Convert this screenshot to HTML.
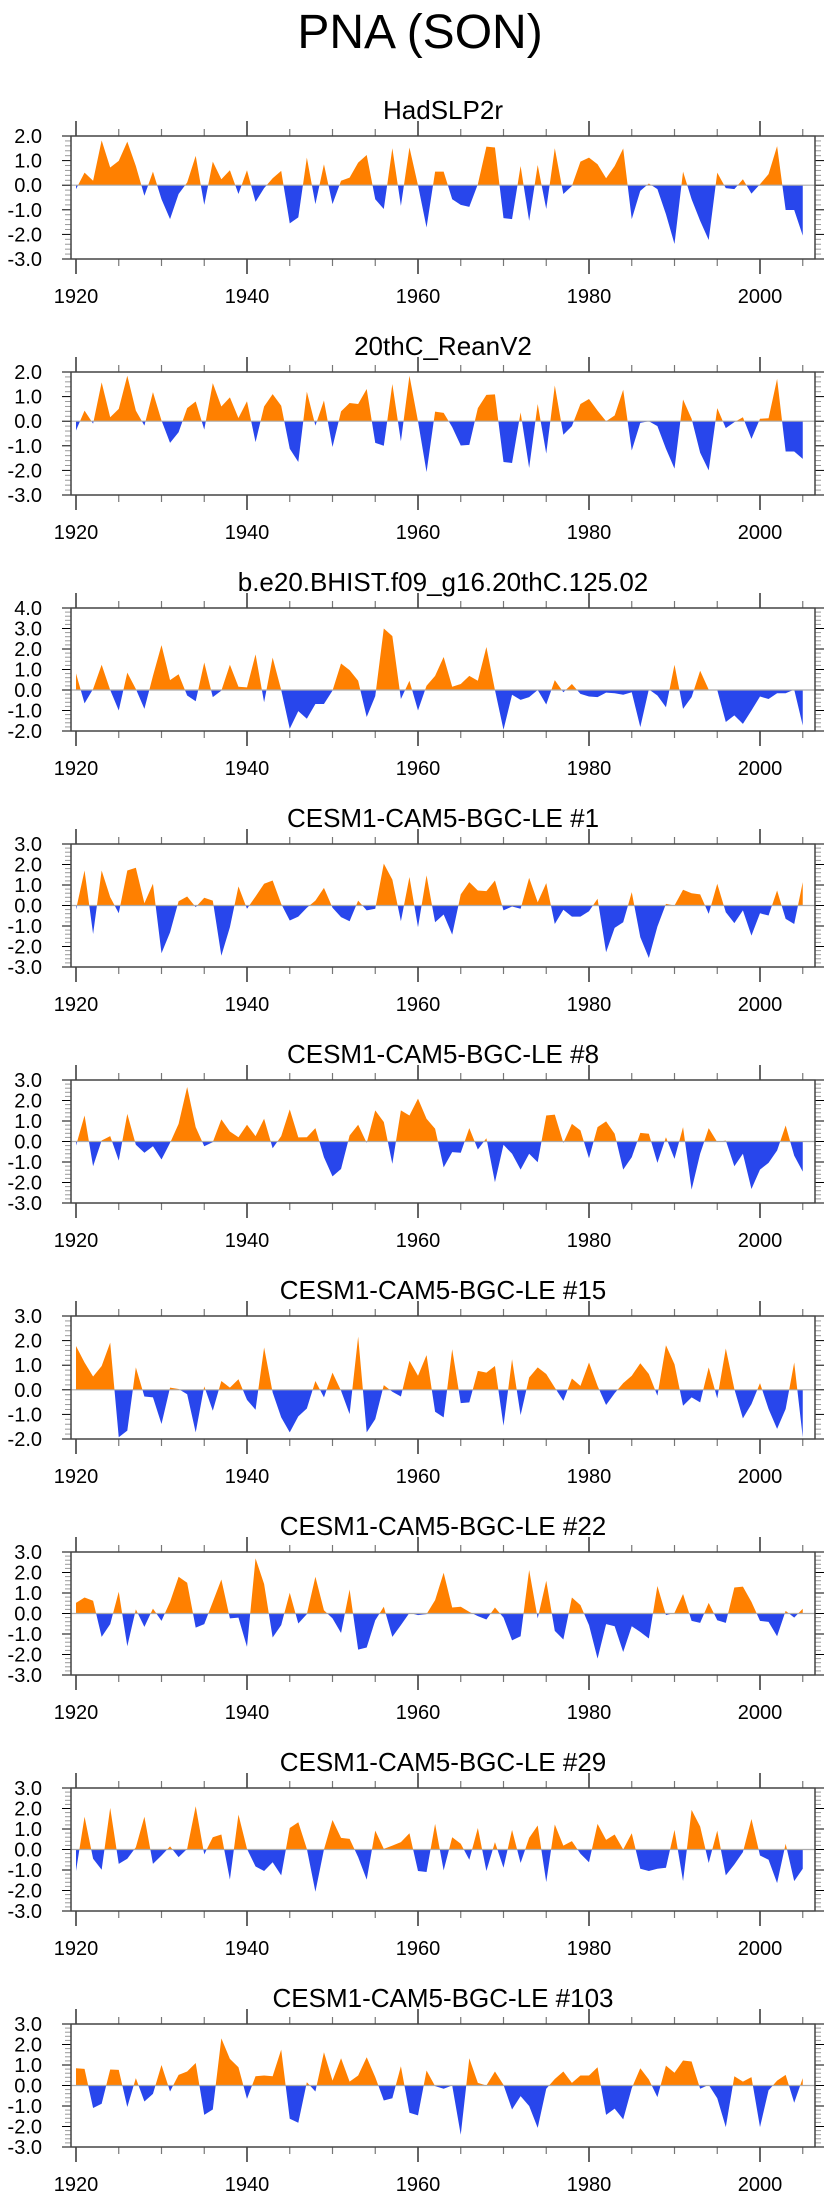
<!DOCTYPE html>
<html><head><meta charset="utf-8"><title>PNA (SON)</title>
<style>
html,body{margin:0;padding:0;background:#fff;}
svg{display:block;font-family:"Liberation Sans",Arial,sans-serif;}
</style></head>
<body>
<svg id="chart" width="840" height="2200" viewBox="0 0 840 2200" xmlns="http://www.w3.org/2000/svg">
<text x="420" y="48" text-anchor="middle" font-size="48">PNA (SON)</text>
</svg>
<script>
const startYear = 1920;
const panelTitles = ["HadSLP2r","20thC_ReanV2","b.e20.BHIST.f09_g16.20thC.125.02","CESM1-CAM5-BGC-LE #1","CESM1-CAM5-BGC-LE #8","CESM1-CAM5-BGC-LE #15","CESM1-CAM5-BGC-LE #22","CESM1-CAM5-BGC-LE #29","CESM1-CAM5-BGC-LE #103"];
const yMaxes = [2,2,4,3,3,3,3,3,3];
const yMins = [-3,-3,-2,-3,-3,-2,-3,-3,-3];
const xTickLabels = [1920,1940,1960,1980,2000];

const hadslp2r = [-0.16,0.51,0.18,1.82,0.72,0.99,1.77,0.78,-0.43,0.55,-0.57,-1.38,-0.36,0.11,1.19,-0.8,0.96,0.24,0.61,-0.36,0.61,-0.68,-0.12,0.28,0.58,-1.55,-1.31,1.12,-0.77,0.85,-0.77,0.18,0.31,0.92,1.23,-0.57,-0.97,1.5,-0.84,1.53,0,-1.72,0.55,0.55,-0.57,-0.8,-0.88,0.04,1.57,1.53,-1.34,-1.38,0.78,-1.45,0.82,-0.97,1.5,-0.36,-0.03,0.96,1.12,0.85,0.28,0.78,1.49,-1.38,-0.23,0.07,-0.16,-1.18,-2.39,0.55,-0.57,-1.45,-2.23,0.51,-0.12,-0.16,0.24,-0.34,0.04,0.45,1.59,-1.01,-1.01,-2.05];
const reanV2 = [-0.38,0.43,-0.1,1.58,0.16,0.5,1.85,0.43,-0.18,1.18,0.03,-0.88,-0.45,0.53,0.8,-0.34,1.55,0.6,0.97,0.13,0.81,-0.85,0.6,1.1,0.63,-1.12,-1.66,1.2,-0.18,0.84,-1.05,0.4,0.74,0.7,1.31,-0.88,-1.0,1.51,-0.82,1.85,0,-2.07,0.39,0.34,-0.24,-0.99,-0.96,0.53,1.07,1.09,-1.66,-1.7,0.36,-1.9,0.7,-1.32,1.45,-0.55,-0.2,0.7,0.9,0.43,0,0.23,1.28,-1.19,-0.07,0,-0.2,-1.12,-1.93,0.88,0.1,-1.28,-2.0,0.53,-0.28,-0.04,0.16,-0.72,0.1,0.12,1.72,-1.23,-1.23,-1.53];
const bhist = [0.81,-0.65,0.05,1.23,0,-1.0,0.85,0.05,-0.92,0.69,2.19,0.48,0.77,-0.27,-0.55,1.34,-0.35,-0.03,1.23,0.16,0.13,1.74,-0.6,1.58,0,-1.89,-1.03,-1.4,-0.68,-0.68,-0.03,1.29,0.97,0.45,-1.32,-0.3,3.0,2.63,-0.44,0.45,-1.0,0.21,0.69,1.61,0.16,0.29,0.69,0.45,2.1,0,-1.94,-0.23,-0.48,-0.35,0,-0.71,0.48,-0.11,0.29,-0.19,-0.32,-0.35,-0.13,-0.16,-0.23,-0.11,-1.81,0.03,-0.27,-0.84,1.23,-0.92,-0.35,0.94,0.02,0,-1.56,-1.24,-1.65,-1.0,-0.32,-0.44,-0.16,-0.16,0.02,-1.73];
const le1 = [-0.2,1.71,-1.39,1.71,0.41,-0.38,1.71,1.84,0.11,1.06,-2.33,-1.31,0.21,0.44,-0.08,0.38,0.24,-2.45,-1.06,0.93,-0.16,0.44,1.06,1.22,0.08,-0.73,-0.54,-0.11,0.24,0.86,-0.11,-0.57,-0.77,0.24,-0.24,-0.16,2.04,1.26,-0.77,1.39,-1.06,1.47,-0.82,-0.44,-1.42,0.54,1.14,0.73,0.7,1.22,-0.24,-0.05,-0.16,1.35,0.16,1.09,-0.9,-0.21,-0.54,-0.54,-0.28,0.33,-2.28,-1.09,-0.82,0.65,-1.55,-2.56,-1.03,0.08,0,0.77,0.6,0.54,-0.41,1.06,-0.33,-0.86,-0.24,-1.47,-0.38,-0.49,0.73,-0.65,-0.9,1.14];
const le8 = [-0.2,1.27,-1.21,0.05,0.26,-0.93,1.35,-0.16,-0.55,-0.23,-0.88,-0.07,0.86,2.66,0.7,-0.23,-0.03,1.08,0.49,0.21,0.82,0.26,1.11,-0.33,0.26,1.57,0.2,0.21,0.65,-0.77,-1.7,-1.34,0.29,0.82,-0.07,1.52,0.95,-1.09,1.52,1.27,2.09,1.11,0.62,-1.26,-0.52,-0.55,0.65,-0.39,0.16,-1.99,-0.16,-0.6,-1.37,-0.6,-1.01,1.27,1.31,-0.07,0.86,0.54,-0.82,0.7,0.98,0.38,-1.37,-0.77,0.42,0.38,-1.04,0.21,-0.85,0.7,-2.35,-0.6,0.65,-0.03,0.05,-1.21,-0.6,-2.32,-1.37,-1.04,-0.44,0.78,-0.69,-1.47];
const le15 = [1.78,1.11,0.54,0.97,1.92,-1.93,-1.66,0.91,-0.27,-0.31,-1.39,0.09,0.03,-0.18,-1.73,0.14,-0.85,0.36,0.09,0.43,-0.41,-0.81,1.72,-0.11,-1.12,-1.73,-1.08,-0.76,0.36,-0.31,0.7,-0.04,-0.99,2.16,-1.73,-1.19,0.19,-0.08,-0.27,1.18,0.57,1.41,-0.89,-1.12,1.65,-0.54,-0.51,0.77,0.7,0.97,-1.46,1.24,-1.03,0.5,0.91,0.64,0.09,-0.45,0.46,0.16,1.11,0.16,-0.62,-0.14,0.27,0.57,1.08,0.64,-0.24,1.81,1.04,-0.65,-0.31,-0.51,0.91,-0.35,1.68,0.03,-1.16,-0.58,0.27,-0.78,-1.59,-0.78,1.11,-1.93];
const le22 = [0.52,0.78,0.62,-1.14,-0.52,1.06,-1.6,0.2,-0.65,0.24,-0.36,0.57,1.79,1.5,-0.69,-0.52,0.57,1.66,-0.24,-0.2,-1.63,2.69,1.44,-1.17,-0.57,1.01,-0.49,-0.03,1.79,0.16,-0.24,-0.95,1.17,-1.76,-1.66,-0.33,0.33,-1.14,-0.57,0.03,-0.08,-0.03,0.65,1.99,0.29,0.33,0.08,-0.13,-0.29,0.29,-0.2,-1.31,-1.11,2.12,-0.24,1.6,-0.85,-1.27,0.78,0.41,-0.57,-2.2,-0.52,-0.62,-1.88,-0.62,-0.9,-1.22,1.34,-0.08,0.03,0.95,-0.36,-0.46,0.52,-0.33,-0.46,1.27,1.31,0.57,-0.36,-0.41,-1.11,0.13,-0.2,0.23];
const le29 = [-1.05,1.6,-0.45,-0.99,2.03,-0.7,-0.45,0.11,1.6,-0.7,-0.29,0.15,-0.37,0.03,2.11,-0.24,0.6,0.73,-1.47,1.7,0.03,-0.83,-1.05,-0.62,-1.26,1.05,1.33,0.03,-2.06,0,1.44,0.57,0.52,-0.37,-1.47,0.92,0.03,0.19,0.36,0.79,-1.05,-1.1,1.25,-1.02,0.6,0.28,-0.5,1.05,-1.05,0.36,-0.89,0.96,-0.66,0.57,1.17,-1.59,1.22,0.19,0.41,-0.21,-0.62,1.25,0.47,0.73,0,0.79,-0.94,-1.05,-0.94,-0.89,0.96,-1.54,1.93,1.12,-0.66,0.92,-1.26,-0.73,-0.13,1.49,-0.29,-0.5,-1.64,0.28,-1.54,-0.94];
const le103 = [0.84,0.81,-1.1,-0.89,0.78,0.76,-1.05,0.36,-0.78,-0.41,1.0,-0.29,0.52,0.68,1.1,-1.43,-1.17,2.3,1.3,0.89,-0.65,0.45,0.49,0.45,1.75,-1.62,-1.82,0.16,-0.29,1.62,0.24,1.33,0.19,0.49,1.38,0.41,-0.73,-0.62,0.94,-1.33,-1.46,0.73,-0.03,-0.16,0,-2.4,1.33,0.13,0,0.68,0.03,-1.17,-0.52,-1.0,-2.07,-0.16,0.32,0.68,0.13,0.49,0.49,0.89,-1.43,-1.13,-1.65,-0.13,0.84,0.29,-0.57,0.97,0.62,1.22,1.17,-0.16,0.03,-0.62,-2.03,0.45,0.19,0.41,-2.03,-0.24,0.24,0.52,-0.84,0.36];
const seriesList = [hadslp2r,reanV2,bhist,le1,le8,le15,le22,le29,le103];

const NS = "http://www.w3.org/2000/svg";
const svg = document.getElementById("chart");
const BOX_L = 71, BOX_R = 815, BOX_H = 123, TOP0 = 136, PITCH = 236;
const ORANGE = "#ff8000", BLUE = "#2846ec";
function xScale(year){ return 76 + (year - 1920) * 8.55; }
function mk(tag, attrs, parent){
  const e = document.createElementNS(NS, tag);
  for (const k in attrs) e.setAttribute(k, attrs[k]);
  (parent || svg).appendChild(e);
  return e;
}

seriesList.forEach(function(vals, p){
  const top = TOP0 + PITCH * p;
  const bot = top + BOX_H;
  const ymax = yMaxes[p], ymin = yMins[p];
  const yScale = function(v){ return top + (ymax - v) / (ymax - ymin) * BOX_H; };
  const y0 = yScale(0);
  const g = mk("g", {});
  
  

  const t = mk("text", {x: (BOX_L + BOX_R) / 2, y: top - 17, "text-anchor": "middle", "font-size": 26}, g);
  t.textContent = panelTitles[p];
  
  

  // clip paths
  const defs = mk("defs", {}, g);
  const cUp = mk("clipPath", {id: "up" + p}, defs);
  mk("rect", {x: BOX_L, y: top, width: BOX_R - BOX_L, height: y0 - top}, cUp);
  const cDn = mk("clipPath", {id: "dn" + p}, defs);
  mk("rect", {x: BOX_L, y: y0, width: BOX_R - BOX_L, height: bot - y0}, cDn);

  let pts = xScale(startYear) + "," + y0 + " ";
  vals.forEach(function(v, i){ pts += xScale(startYear + i) + "," + yScale(v) + " "; });
  pts += xScale(startYear + vals.length - 1) + "," + y0;
  const pos = mk("polygon", {points: pts, fill: ORANGE, "clip-path": "url(#up" + p + ")"}, g);
  
  
  const neg = mk("polygon", {points: pts, fill: BLUE, "clip-path": "url(#dn" + p + ")"}, g);
  
  

  const zl = mk("line", {x1: BOX_L, x2: BOX_R, y1: y0, y2: y0, stroke: "#aaa", "stroke-width": 1.2}, g);
  
  

  // x ticks
  for (let yr = 1920; yr <= 2005; yr += 5){
    const x = xScale(yr), major = (yr % 20 === 0), len = major ? 15 : 7;
    mk("line", {x1: x, x2: x, y1: top, y2: top - len, stroke: major ? "#000" : "#777", "stroke-width": 1.2}, g);
    mk("line", {x1: x, x2: x, y1: bot, y2: bot + len, stroke: major ? "#000" : "#777", "stroke-width": 1.2}, g);
  }
  xTickLabels.forEach(function(yr){
    const lt = mk("text", {x: xScale(yr), y: bot + 44, "text-anchor": "middle", "font-size": 20}, g);
    lt.textContent = yr;
    
    
  });
  // y ticks
  for (let k = Math.round(ymin * 5); k <= Math.round(ymax * 5); k++){
    const v = k / 5, y = yScale(v), major = (k % 5 === 0), len = major ? 9 : 6;
    const col = major ? "#000" : "#999";
    mk("line", {x1: BOX_L, x2: BOX_L - len, y1: y, y2: y, stroke: col, "stroke-width": 1}, g);
    mk("line", {x1: BOX_R, x2: BOX_R + len, y1: y, y2: y, stroke: col, "stroke-width": 1}, g);
    if (major){
      const yl = mk("text", {x: 42, y: y + 7, "text-anchor": "end", "font-size": 20}, g);
      yl.textContent = v.toFixed(1);
      
      
    }
  }
  const frame = mk("rect", {x: BOX_L, y: top, width: BOX_R - BOX_L, height: BOX_H, fill: "none", stroke: "#444", "stroke-width": 1.5}, g);
  
  
});
</script>
</body></html>
